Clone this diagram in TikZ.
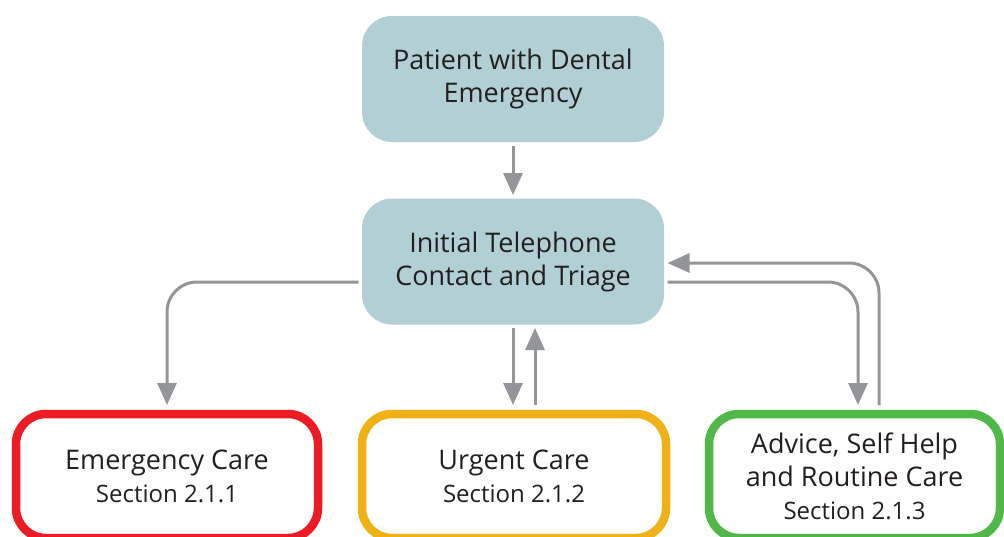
\documentclass[tikz,border=0pt]{standalone}
\usepackage{fontspec}
\setmainfont{Open Sans}
\usetikzlibrary{arrows.meta}

\definecolor{boxblue}{HTML}{B2CFD5}
\definecolor{inkgray}{HTML}{231F20}
\definecolor{arrowgray}{HTML}{939598}
\definecolor{careRed}{HTML}{ED1C24}
\definecolor{careAmber}{HTML}{EFB115}
\definecolor{careGreen}{HTML}{4FB848}

\newcommand{\sect}[1]{{\fontsize{24}{33}\selectfont #1}}

\begin{document}
\begin{tikzpicture}[x=1pt, y=-1pt,
  every node/.style={text=inkgray, align=center, font=\fontsize{27}{33}\selectfont},
  bluebox/.style={rectangle, fill=boxblue, rounded corners=30pt, minimum width=302pt,
    minimum height=126pt, inner sep=0pt, outer sep=3.5pt},
  carebox/.style={rectangle, draw=#1, fill=white, line width=8.5pt, rounded corners=30pt,
    minimum height=124pt, inner sep=0pt, outer sep=9pt},
  link/.style={draw=arrowgray, line width=3pt, rounded corners=30pt,
    -{Triangle[width=19pt,length=22pt]}}]

\useasboundingbox (0,0) rectangle (1004,536);
\clip (0,0) rectangle (1004,536);

% top row
\node[bluebox] (patient) at (513,79) {Patient with Dental\\Emergency};
\node[bluebox] (triage) at (513,261.5) {Initial Telephone\\Contact and Triage};

% bottom row
\node[carebox=careRed, minimum width=302pt] (emergency) at (167,476)
  {Emergency Care\\\sect{Section 2.1.1}};
\node[carebox=careAmber, minimum width=304pt] (urgent) at (514,476)
  {Urgent Care\\\sect{Section 2.1.2}};
\node[carebox=careGreen, minimum width=291pt] (advice) at (854.5,476)
  {Advice, Self Help\\and Routine Care\\\sect{Section 2.1.3}};

% connectors
\draw[link] (patient) -- (triage);
\draw[link] ([yshift=-20.5pt]triage.west) -| (emergency.north);
\draw[link] (triage.south) -- (triage.south |- urgent.north);
\draw[link] ([xshift=21pt]urgent.north) -- ([xshift=21pt]urgent.north |- triage.south);
\draw[link] ([yshift=-20.5pt]triage.east) -| ([xshift=3.5pt]advice.north);
\draw[link] ([xshift=24.5pt]advice.north) |- ([yshift=-1.5pt]triage.east);

\end{tikzpicture}
\end{document}
